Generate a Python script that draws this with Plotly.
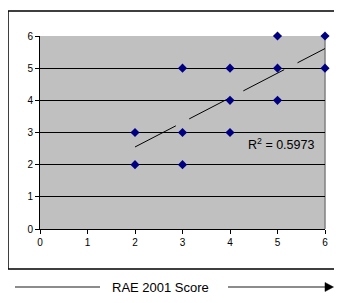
import plotly.graph_objects as go

# Data
x_vals = [2, 2, 3, 3, 3, 4, 4, 4, 5, 5, 5, 6, 6]
y_vals = [3, 2, 5, 3, 2, 5, 4, 3, 6, 5, 4, 6, 5]
trend_x = [2, 6]
trend_y = [2.55, 5.61]
r2_label = "R<sup>2</sup> = 0.5973"
x_title = "RAE 2001 Score"
x_ticks = [0, 1, 2, 3, 4, 5, 6]
y_ticks = [0, 1, 2, 3, 4, 5, 6]

OFF = 8  # page body margin
W, H = 342 - 2 * OFF, 303 - 2 * OFF
L, T = 40 - OFF, 36 - OFF
pw, ph = 285, 193
R = W - L - pw
B = H - T - ph

def px(x):
    return (x - OFF - L) / pw

def py(y):
    return (T + ph - (y - OFF)) / ph

fig = go.Figure()
fig.add_trace(go.Scatter(
    x=trend_x, y=trend_y, mode="lines",
    line=dict(color="black", width=1, dash="46px,15px"),
    hoverinfo="skip", showlegend=False))
fig.add_trace(go.Scatter(
    x=x_vals, y=y_vals, mode="markers", cliponaxis=False,
    marker=dict(symbol="diamond", size=7, color="#000080"),
    showlegend=False))

fig.update_layout(
    width=W, height=H,
    margin=dict(l=L, r=R, t=T, b=B, autoexpand=False),
    paper_bgcolor="white", plot_bgcolor="#C0C0C0",
    font=dict(family="Liberation Sans, Arial", size=10, color="black"),
    xaxis=dict(range=[0, 6], tickvals=x_ticks, showgrid=False, zeroline=False,
               automargin=False,
               showline=True, linecolor="black", linewidth=1,
               ticks="outside", ticklen=4, tickcolor="black", tickfont=dict(size=10)),
    yaxis=dict(range=[0, 6], tickvals=y_ticks, showgrid=True, gridcolor="black", gridwidth=1,
               zeroline=False, automargin=False,
               showline=True, linecolor="black", linewidth=1,
               ticks="outside", ticklen=4, tickcolor="black", tickfont=dict(size=10)),
    shapes=[
        dict(type="line", xref="paper", yref="paper", x0=1, x1=1, y0=0, y1=1,
             line=dict(color="#808080", width=1.5), layer="below"),
        dict(type="rect", xref="paper", yref="paper",
             x0=px(8), x1=px(350), y0=py(269), y1=py(11),
             line=dict(color="black", width=1.5)),
        dict(type="line", xref="paper", yref="paper",
             x0=px(15), x1=px(100), y0=py(287), y1=py(287),
             line=dict(color="#666666", width=1.5)),
        dict(type="line", xref="paper", yref="paper",
             x0=px(228), x1=px(326), y0=py(287), y1=py(287),
             line=dict(color="#666666", width=1.5)),
        dict(type="path", xref="paper", yref="paper",
             path=f"M {px(325)},{py(282.5)} L {px(333.5)},{py(287)} L {px(325)},{py(291.5)} Z",
             fillcolor="black", line=dict(color="black", width=0.5)),
    ],
    annotations=[
        dict(text=r2_label, xref="paper", yref="paper", x=px(281), y=py(144),
             showarrow=False, font=dict(size=12.5, color="black"),
             xanchor="center", yanchor="middle"),
        dict(text=x_title, xref="paper", yref="paper", x=px(160), y=py(287),
             showarrow=False, font=dict(size=13, color="black"),
             xanchor="center", yanchor="middle"),
    ],
)

fig.write_html("out.html")
